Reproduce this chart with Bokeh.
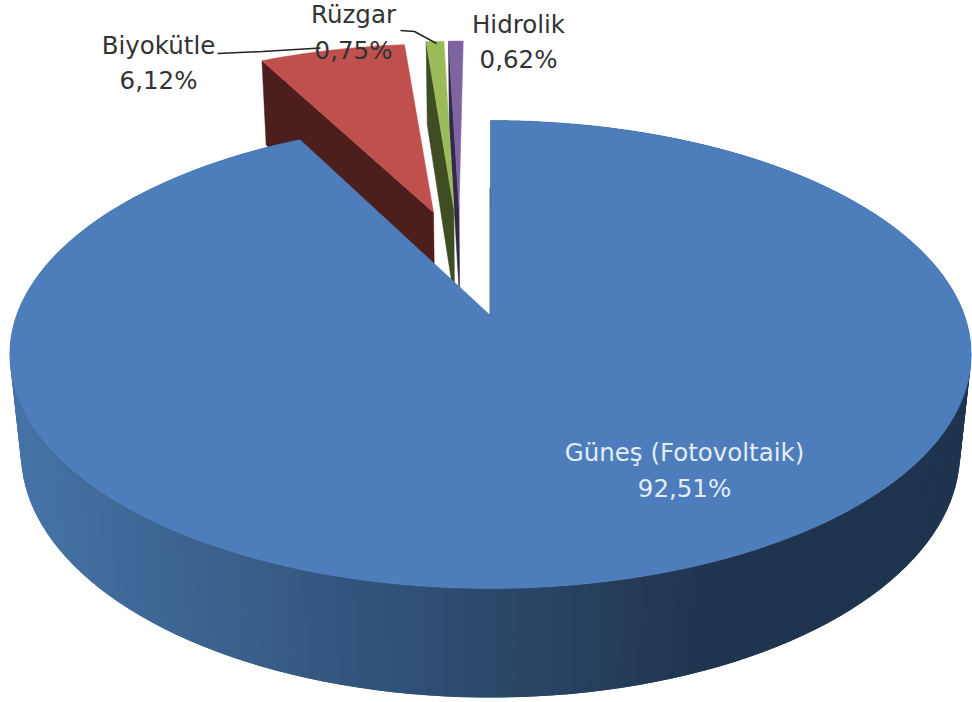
import math
from bokeh.plotting import figure
from bokeh.embed import file_html
from bokeh.resources import INLINE
from bokeh.core.properties import value

# --- data
categories = ["Güneş (Fotovoltaik)", "Biyokütle", "Rüzgar", "Hidrolik"]
shares = [92.51, 6.12, 0.75, 0.62]
share_labels = ["92,51%", "6,12%", "0,75%", "0,62%"]

# --- style
top_colors = ["#4D7EBB", "#C0504D", "#9BBB59", "#8064A2"]
wall_colors = [None, "#4C1E1C", "#3F4D22", "#322848"]
wall_left, wall_right = (0x45, 0x72, 0xA5), (0x1F, 0x34, 0x4E)
text_colors = ["#E4ECF6", "#333333", "#333333", "#333333"]
offsets = [(0, 0), (-0.13, 0.49), (-0.084, 0.51), (-0.072, 0.51)]
edge_shift = [(0, -0.5), (-0.6, -0.6), (0, 0), (0, 0)]
name_pos = [(684, 452), (158, 45), (353, 14), (518, 24)]
pct_pos = [(684, 488), (158, 80), (353, 50), (518, 59)]

# --- projection of the tilted disc onto the page
CX, CY, RX, RY, PERSP, DEPTH, SHRINK = 490, 315, 474, 227.5, 1 / 6, 99.7, 0.023


def project(u, v, z=0.0):
    w = 1 + PERSP * v + SHRINK * z
    return CX + RX * u / w, CY - (RY * v - DEPTH * z) / w


def rim(a_deg, off, z=0.0):
    a = math.radians(a_deg)
    return project(off[0] + math.sin(a), off[1] + math.cos(a), z)


def mix(t):
    t = max(0.0, min(1.0, t))
    c = [round(l + (r - l) * t) for l, r in zip(wall_left, wall_right)]
    return "#%02x%02x%02x" % tuple(c)


edges = [0.0]
for s in shares:
    edges.append(edges[-1] + s * 3.6 / (sum(shares) / 100))

p = figure(width=972, height=702, x_range=(0, 972), y_range=(702, 0),
           output_backend="svg", toolbar_location=None, min_border=0,
           outline_line_color=None, background_fill_color="white")
p.axis.visible = False
p.grid.visible = False

# exploded small slices, back to front: purple, green, red
for i in (3, 2, 1):
    off = offsets[i]
    a0, a1 = edges[i] + edge_shift[i][0], edges[i + 1] + edge_shift[i][1]
    apex = project(off[0], off[1])
    apex_low = project(off[0], off[1], 1)
    r0 = rim(a0, off)
    r0_low = rim(a0, off, 1)
    p.patch([apex[0], r0[0], r0_low[0], apex_low[0]],
            [apex[1], r0[1], r0_low[1], apex_low[1]],
            fill_color=wall_colors[i], line_color=wall_colors[i], line_width=0.5)
    angs = [a0 + (a1 - a0) * k / 24 for k in range(25)]
    pts = [apex] + [rim(a, off) for a in angs]
    p.patch([q[0] for q in pts], [q[1] for q in pts],
            fill_color=top_colors[i], line_color=top_colors[i], line_width=0.5)

# big slice: outer wall as a horizontal gradient of overlapping bands
a0, a1 = edges[0] + edge_shift[0][0], edges[1] + edge_shift[0][1]
n = 180
angs = [a0 + (a1 - a0) * k / n for k in range(n + 1)]
bands = []
for k in range(n):
    far = min(k + 2, n)
    q0, q1 = rim(angs[k], offsets[0]), rim(angs[far], offsets[0])
    q2, q3 = rim(angs[far], offsets[0], 1), rim(angs[k], offsets[0], 1)
    xm = (rim(angs[k], offsets[0])[0] + rim(angs[k + 1], offsets[0])[0]) / 2
    bands.append(([q0[0], q1[0], q2[0], q3[0]], [q0[1], q1[1], q2[1], q3[1]],
                  mix((xm - 20) / (720 - 20))))
p.patches([b[0] for b in bands], [b[1] for b in bands],
          fill_color=[b[2] for b in bands], line_color=None)

pts = [project(0, 0)] + [rim(a, offsets[0]) for a in angs]
p.patch([q[0] for q in pts], [q[1] for q in pts],
        fill_color=top_colors[0], line_color=top_colors[0], line_width=0.5)

# thin dark seam along the straight edge of the big slice
seam_top, seam_low = project(0, 0.62), project(0, 0)
p.line([seam_top[0] - 0.5, seam_low[0] - 0.5], [seam_top[1], seam_low[1]],
       line_color="#2A4568", line_width=1, line_alpha=0.8)

# leader lines
p.line([217, 262, 320], [53, 51, 47.5], line_color="#222222", line_width=1.5)
p.line([400, 414, 436], [30, 31, 43], line_color="#222222", line_width=1.5)

# labels
for i in range(4):
    for txt, (x, y) in ((categories[i], name_pos[i]), (share_labels[i], pct_pos[i])):
        p.text([x], [y], text=[txt], text_align="center", text_baseline="middle",
               text_color=text_colors[i], text_font=value("DejaVu Sans"),
               text_font_size="24.5px")

open("out.html", "w").write(file_html(p, INLINE))
